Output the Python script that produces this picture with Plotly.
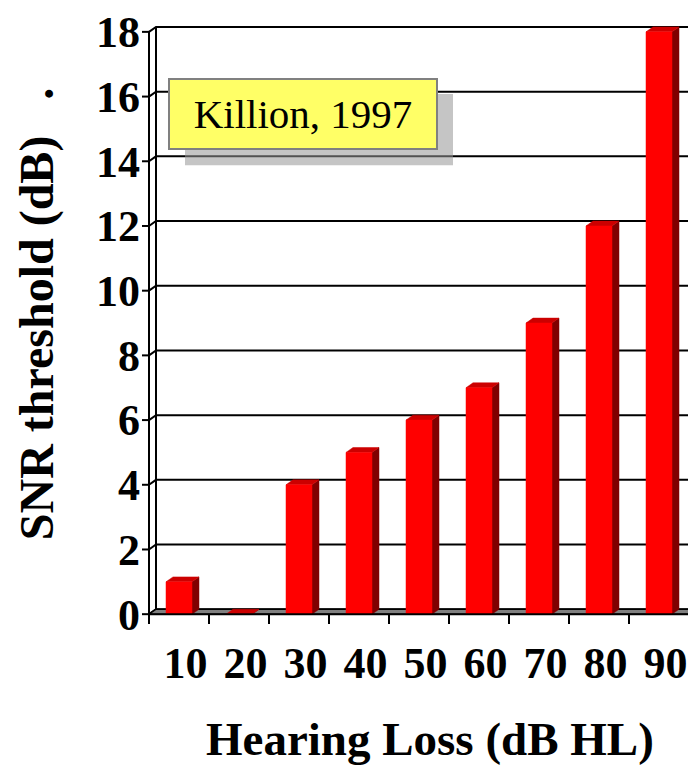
import plotly.graph_objects as go

# Data
categories = ['10', '20', '30', '40', '50', '60', '70', '80', '90']
snr_threshold = [1, 0, 4, 5, 6, 7, 9, 12, 18]
y_ticks = [0, 2, 4, 6, 8, 10, 12, 14, 16, 18]

FONT = 'Liberation Serif, Times New Roman, serif'

# pixel geometry (screen px; the page body adds an 8px offset)
OFF = 8
W, H = 696 - OFF, 767 - OFF
L, T, R, B = 142 - OFF, 17 - OFF, 0, 139
PX_X = 60.0           # px per category
PX_Y = 32.78          # px per dB
DX = 7 / PX_X         # 3d depth offset
DY = 5 / PX_Y
BAR_W = 26 / PX_X
plot_w = W - L - R
plot_h = H - T - B
FRONT_X, FRONT_Y = 149 - OFF, 614 - OFF   # pixel corner of front axes

x0 = -0.5 - (FRONT_X - L) / PX_X
y0 = -(T + plot_h - FRONT_Y) / PX_Y
x_range = [x0, x0 + plot_w / PX_X]
y_range = [y0, y0 + plot_h / PX_Y]


def px(x, y):
    # screen pixel -> paper coords
    x, y = x - OFF, y - OFF
    return (x - L) / plot_w, (T + plot_h - y) / plot_h


n = len(categories)
left, right = -0.5, n - 0.5
ymax = max(y_ticks)

fig = go.Figure()

# back wall + side wall gridlines
gx, gy = [], []
for v in y_ticks:
    gx += [left, left + DX, right + DX, None]
    gy += [v, v + DY, v + DY, None]
gx += [left + DX, left + DX, None]
gy += [DY, ymax + DY, None]
fig.add_trace(go.Scatter(x=gx, y=gy, mode='lines', line=dict(color='black', width=2)))

# floor
fig.add_trace(go.Scatter(x=[left, right, right + DX, left + DX, left],
                         y=[0, 0, DY, DY, 0], mode='lines', fill='toself',
                         fillcolor='#808080', line=dict(color='black', width=1.5)))

# 3d bars
for i, v in enumerate(snr_threshold):
    a, b = i - BAR_W / 2, i + BAR_W / 2
    # side
    fig.add_trace(go.Scatter(x=[b, b + DX, b + DX, b, b], y=[0, DY, v + DY, v, 0],
                             mode='lines', fill='toself', fillcolor='#800000',
                             line=dict(color='#800000', width=0.5)))
    # top
    fig.add_trace(go.Scatter(x=[a, b, b + DX, a + DX, a], y=[v, v, v + DY, v + DY, v],
                             mode='lines', fill='toself', fillcolor='#CC0000',
                             line=dict(color='#CC0000', width=0.5)))
    # front
    if v > 0:
        fig.add_trace(go.Scatter(x=[a, b, b, a, a], y=[0, 0, v, v, 0],
                                 mode='lines', fill='toself', fillcolor='#FF0000',
                                 line=dict(color='#FF0000', width=0.5)))

# front axes with tick stubs
ax, ay = [left, left, None, left, right, None], [0, ymax, None, 0, 0, None]
for v in y_ticks:
    ax += [left - 7 / PX_X, left, None]
    ay += [v, v, None]
for k in range(n + 1):
    ax += [left + k, left + k, None]
    ay += [0, -10 / PX_Y, None]
fig.add_trace(go.Scatter(x=ax, y=ay, mode='lines', line=dict(color='black', width=2)))

# shadow of the text box
sx0, sy0 = px(185, 159)
sx1, sy1 = px(453, 87)
fig.add_shape(type='rect', xref='paper', yref='paper', x0=sx0, y0=sy0, x1=sx1, y1=sy1,
              fillcolor='rgba(150,150,150,0.55)', line=dict(width=0), layer='above')

bx, by = px(303, 107)
fig.add_annotation(xref='paper', yref='paper', x=bx, y=by, xanchor='center', yanchor='middle',
                   text='Killion, 1997',
                   showarrow=False, width=266, height=68, borderpad=0,
                   bgcolor='#FFFF66', bordercolor='#808080', borderwidth=2,
                   font=dict(family=FONT, size=41, color='black'))

tx, ty = px(37, 310)
fig.add_annotation(xref='paper', yref='paper', x=tx, y=ty, xanchor='center', yanchor='middle',
                   textangle=-90,
                   text='<b>SNR threshold (dB)\u00a0\u00a0\u00a0.</b>', showarrow=False,
                   font=dict(family=FONT, size=48, color='black'))

hx, hy = px(430, 740)
fig.add_annotation(xref='paper', yref='paper', x=hx, y=hy, xanchor='center', yanchor='middle',
                   text='<b>Hearing Loss (dB HL)</b>', showarrow=False,
                   font=dict(family=FONT, size=47, color='black'))

fig.update_layout(
    width=W, height=H,
    margin=dict(l=L, r=R, t=T, b=B),
    paper_bgcolor='white', plot_bgcolor='white',
    showlegend=False, hovermode=False,
    xaxis=dict(range=x_range, showgrid=False, zeroline=False, showline=False,
               tickmode='array', tickvals=[i + 0.11 for i in range(n)],
               ticktext=['<b>%s</b>' % c for c in categories], ticks='',
               ticklabelstandoff=5, ticklabeloverflow='allow',
               tickfont=dict(family=FONT, size=44, color='black')),
    yaxis=dict(range=y_range, showgrid=False, zeroline=False, showline=False,
               tickmode='array', tickvals=y_ticks,
               ticktext=['<b>%d</b>' % v for v in y_ticks], ticks='',
               ticklabelstandoff=1, ticklabeloverflow='allow',
               tickfont=dict(family=FONT, size=44, color='black')),
)

fig.write_html("out.html")
